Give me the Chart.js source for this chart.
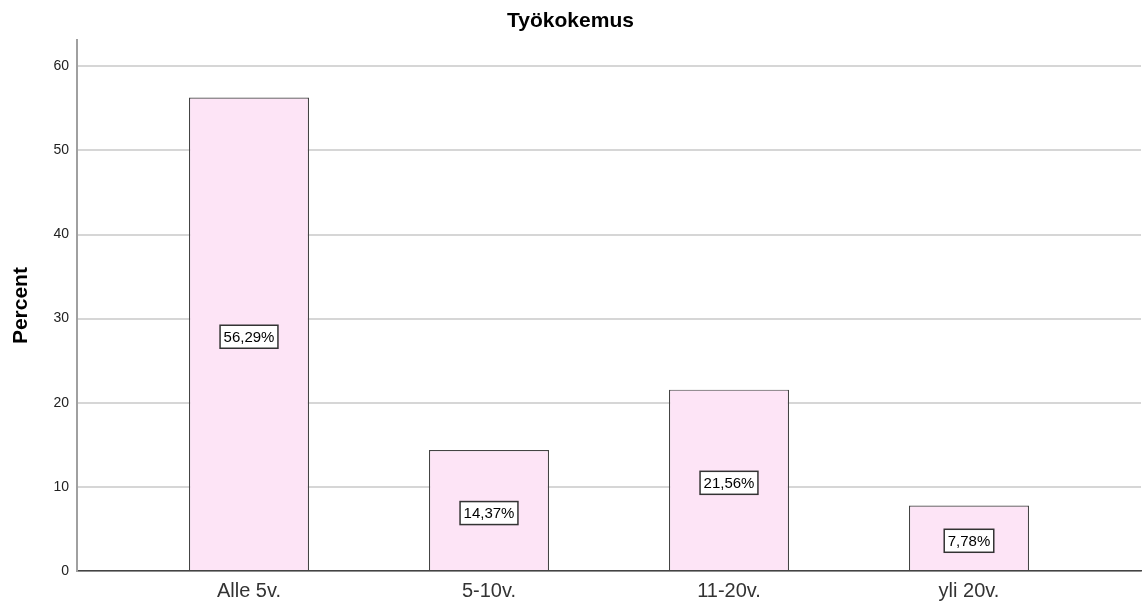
<!DOCTYPE html>
<html>
<head>
<meta charset="utf-8">
<script src="https://cdn.jsdelivr.net/npm/chart.js@4"></script>
<style>
  html, body { margin: 0; padding: 0; background: #fff; }
  #wrap { width: 1142px; height: 604px; }
</style>
</head>
<body>
<div id="wrap"><canvas id="workChart"></canvas></div>
<script>
const categories = ['Alle 5v.', '5-10v.', '11-20v.', 'yli 20v.'];
const percents = [56.29, 14.37, 21.56, 7.78];
const percentLabels = ['56,29%', '14,37%', '21,56%', '7,78%'];
const yTicks = [0, 10, 20, 30, 40, 50, 60];

// box labels in the middle of each bar
const boxLabels = {
    id: 'boxLabels',
    afterDatasetsDraw(chart) {
        const ctx = chart.ctx;
        const meta = chart.getDatasetMeta(0);
        ctx.save();
        ctx.font = '15px "Liberation Sans", Arial, sans-serif';
        ctx.textAlign = 'center';
        ctx.textBaseline = 'middle';
        meta.data.forEach(function(bar, i) {
            const txt = percentLabels[i];
            const w = ctx.measureText(txt).width + 7;
            const h = 23;
            const cx = bar.x;
            const cy = (bar.y + bar.base) / 2 + 3;
            ctx.fillStyle = '#fff';
            ctx.fillRect(cx - w / 2, cy - h / 2, w, h);
            ctx.strokeStyle = '#333';
            ctx.lineWidth = 1.5;
            ctx.strokeRect(cx - w / 2, cy - h / 2, w, h);
            ctx.fillStyle = '#000';
            ctx.fillText(txt, cx, cy + 1);
        });
        ctx.restore();
    }
};

new Chart(document.getElementById('workChart'), {
    type: 'bar',
    data: {
        datasets: [{
            label: 'Percent',
            data: percents.map((v, i) => ({ x: i, y: v })),
            backgroundColor: '#fde4f6',
            borderColor: '#444',
            borderWidth: 1.2,
            categoryPercentage: 1,
            barPercentage: 0.5
        }]
    },
    options: {
        responsive: true,
        maintainAspectRatio: false,
        animation: false,
        layout: { padding: { top: 0, right: 1, bottom: 0, left: 0 } },
        plugins: {
            legend: { display: false },
            tooltip: { enabled: false },
            title: {
                display: true,
                text: 'Työkokemus',
                color: '#000',
                font: { family: '"Liberation Sans", Arial, sans-serif', size: 21, weight: 'bold' },
                padding: { top: 9, bottom: 6 }
            }
        },
        scales: {
            x: {
                type: 'linear',
                offset: false,
                min: -0.7167,
                max: 3.7167,
                afterBuildTicks: function(scale) {
                    scale.ticks = categories.map((c, i) => ({ value: i }));
                },
                afterFit: function(scale) { scale.height = 33; },
                grid: { display: false, drawTicks: false, offset: false },
                border: { display: true, color: '#444', width: 1.5 },
                ticks: {
                    padding: 8,
                    color: '#333',
                    font: { family: '"Liberation Sans", Arial, sans-serif', size: 20 },
                    callback: function(v) { return categories[v]; }
                }
            },
            y: {
                min: 0,
                max: 63.1,
                afterBuildTicks: function(scale) {
                    scale.ticks = yTicks.map(v => ({ value: v }));
                },
                afterFit: function(scale) { scale.width = 77; },
                grid: { color: '#d6d6d6', lineWidth: 2, drawTicks: false },
                border: { display: true, color: '#a0a0a0', width: 2 },
                ticks: {
                    padding: 8,
                    color: '#222',
                    font: { family: '"Liberation Sans", Arial, sans-serif', size: 14 }
                },
                title: {
                    display: true,
                    text: 'Percent',
                    color: '#000',
                    font: { family: '"Liberation Sans", Arial, sans-serif', size: 21, weight: 'bold' },
                    padding: { top: 9, bottom: 0 }
                }
            }
        }
    },
    plugins: [boxLabels]
});
</script>
</body>
</html>
